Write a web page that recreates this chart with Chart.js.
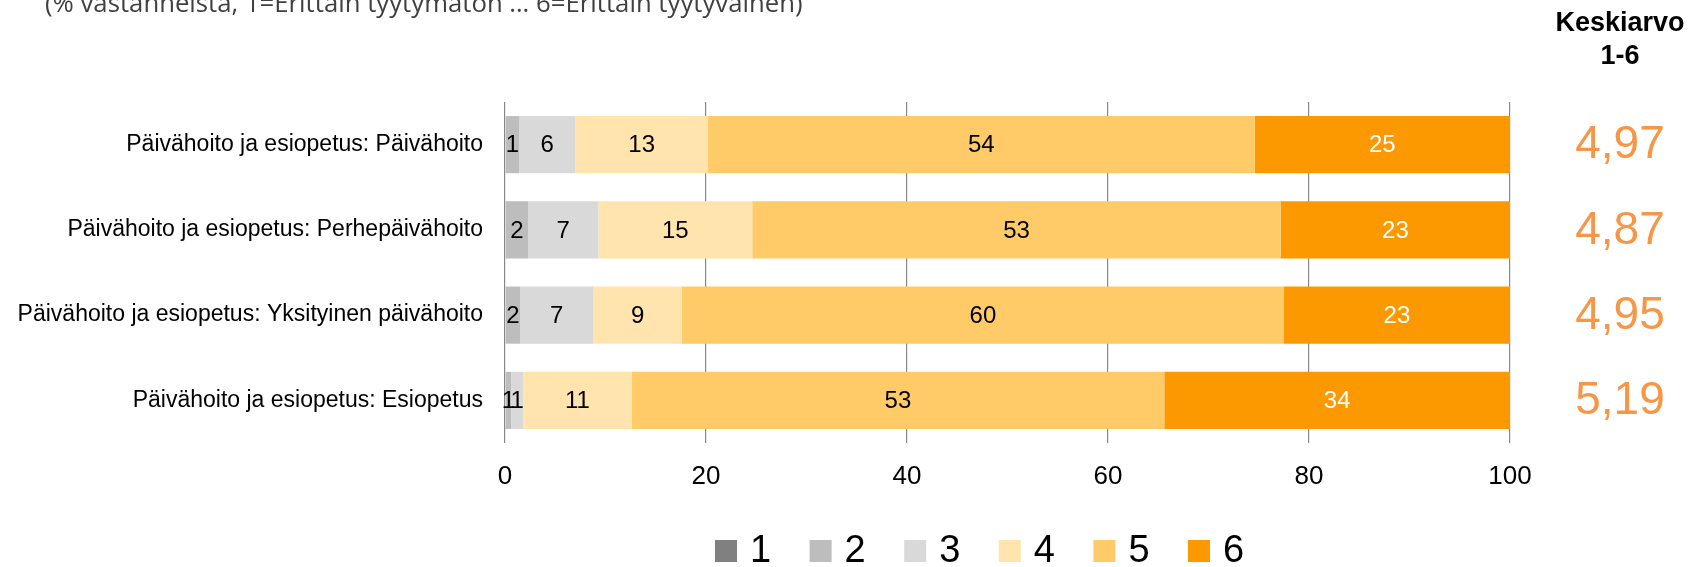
<!DOCTYPE html>
<html>
<head>
<meta charset="utf-8">
<script src="https://cdn.jsdelivr.net/npm/chart.js@4.4.1/dist/chart.umd.min.js"></script>
<style>
html,body{margin:0;padding:0;background:#fff;}
#wrap{position:relative;width:1692px;height:567px;}
</style>
</head>
<body>
<div id="wrap"><canvas id="c"></canvas></div>
<script>
const categories = [
  "Päivähoito ja esiopetus: Päivähoito",
  "Päivähoito ja esiopetus: Perhepäivähoito",
  "Päivähoito ja esiopetus: Yksityinen päivähoito",
  "Päivähoito ja esiopetus: Esiopetus"
];
const seriesNames = ["1", "2", "3", "4", "5", "6"];
const s1 = [0, 0, 0, 0];
const s2 = [1.4, 2.3, 1.5, 0.6];
const s3 = [5.6, 7.0, 7.3, 1.2];
const s4 = [13.2, 15.3, 8.8, 10.8];
const s5 = [54.4, 52.6, 59.9, 53.0];
const s6 = [25.4, 22.8, 22.5, 34.4];
const averages = [4.97, 4.87, 4.95, 5.19];
const xTicks = [0, 20, 40, 60, 80, 100];
const titleText = "(% vastanneista, 1=Erittäin tyytymätön … 6=Erittäin tyytyväinen)";
const avgHeader = ["Keskiarvo", "1-6"];

const colors = ["#808080", "#BDBDBD", "#D9D9D9", "#FFE4AE", "#FFCB69", "#FD9900"];
const labelColors = ["#000", "#000", "#000", "#000", "#000", "#fff"];
const seriesData = [s1, s2, s3, s4, s5, s6];

const FONT = "'Liberation Sans', Arial, sans-serif";

const extras = {
  id: 'extras',
  afterDatasetsDraw(chart) {
    const ctx = chart.ctx;
    ctx.save();
    ctx.font = "24px " + FONT;
    ctx.textAlign = "center";
    ctx.textBaseline = "middle";
    chart.data.datasets.forEach((ds, di) => {
      const meta = chart.getDatasetMeta(di);
      meta.data.forEach((bar, i) => {
        const v = ds.data[i];
        if (!v) return;
        const cx = (bar.x + bar.base) / 2;
        ctx.fillStyle = labelColors[di];
        ctx.fillText(String(Math.round(v)), cx, bar.y + 1);
      });
    });
    ctx.restore();
  },
  afterDraw(chart) {
    const ctx = chart.ctx;
    const y = chart.scales.y;
    ctx.save();
    // title (partly cut at top), fitted to the reference width
    let fs = 22;
    ctx.font = fs + "px 'Open Sans', sans-serif";
    const w = ctx.measureText(titleText).width;
    fs = fs * 758 / w;
    ctx.font = fs.toFixed(2) + "px 'Open Sans', sans-serif";
    ctx.fillStyle = "#404040";
    ctx.textAlign = "left";
    ctx.textBaseline = "alphabetic";
    ctx.fillText(titleText, 45, 12);
    // average header
    const axc = 1620;
    ctx.font = "bold 27px " + FONT;
    ctx.fillStyle = "#000";
    ctx.textAlign = "center";
    ctx.textBaseline = "middle";
    ctx.fillText(avgHeader[0], axc, 24);
    ctx.fillText(avgHeader[1], axc, 57);
    // averages
    ctx.font = "46px " + FONT;
    ctx.fillStyle = "#F79646";
    averages.forEach((a, i) => {
      ctx.fillText(a.toFixed(2).replace('.', ','), axc, y.getPixelForValue(i) + 1);
    });
    // legend
    const step = 94.6;
    const x0 = 715;
    const ly = 540;
    ctx.textAlign = "left";
    ctx.font = "38px " + FONT;
    chart.data.datasets.forEach((ds, di) => {
      const x = x0 + di * step;
      ctx.fillStyle = ds.backgroundColor;
      ctx.fillRect(x, ly, 22, 22);
      ctx.fillStyle = "#000";
      ctx.fillText(ds.label, x + 35, ly + 12);
    });
    ctx.restore();
  }
};

new Chart(document.getElementById('c'), {
  type: 'bar',
  data: {
    labels: categories,
    datasets: seriesNames.map((n, i) => ({
      label: n,
      data: seriesData[i],
      backgroundColor: colors[i],
      borderWidth: 0,
      categoryPercentage: 1.0,
      barPercentage: 0.67
    }))
  },
  options: {
    indexAxis: 'y',
    responsive: true,
    maintainAspectRatio: false,
    animation: false,
    devicePixelRatio: 1,
    layout: { padding: { top: 102, right: 182, bottom: 74, left: 0 } },
    plugins: {
      legend: { display: false },
      tooltip: { enabled: false },
      title: { display: false }
    },
    scales: {
      x: {
        stacked: true,
        min: 0,
        max: 100,
        afterBuildTicks: (scale) => { scale.ticks = xTicks.map(v => ({ value: v })); },
        afterFit: (scale) => { scale.height = 50; },
        grid: { color: "#888", lineWidth: 1.2, drawTicks: false },
        border: { display: false },
        ticks: { font: { size: 26, family: FONT }, color: "#000", padding: 18, maxRotation: 0 }
      },
      y: {
        stacked: true,
        afterFit: (scale) => { scale.width = 505; },
        grid: { display: false, drawTicks: false },
        border: { display: false },
        ticks: { font: { size: 23, family: FONT }, color: "#000", padding: 22 }
      }
    }
  },
  plugins: [extras]
});
</script>
</body>
</html>
